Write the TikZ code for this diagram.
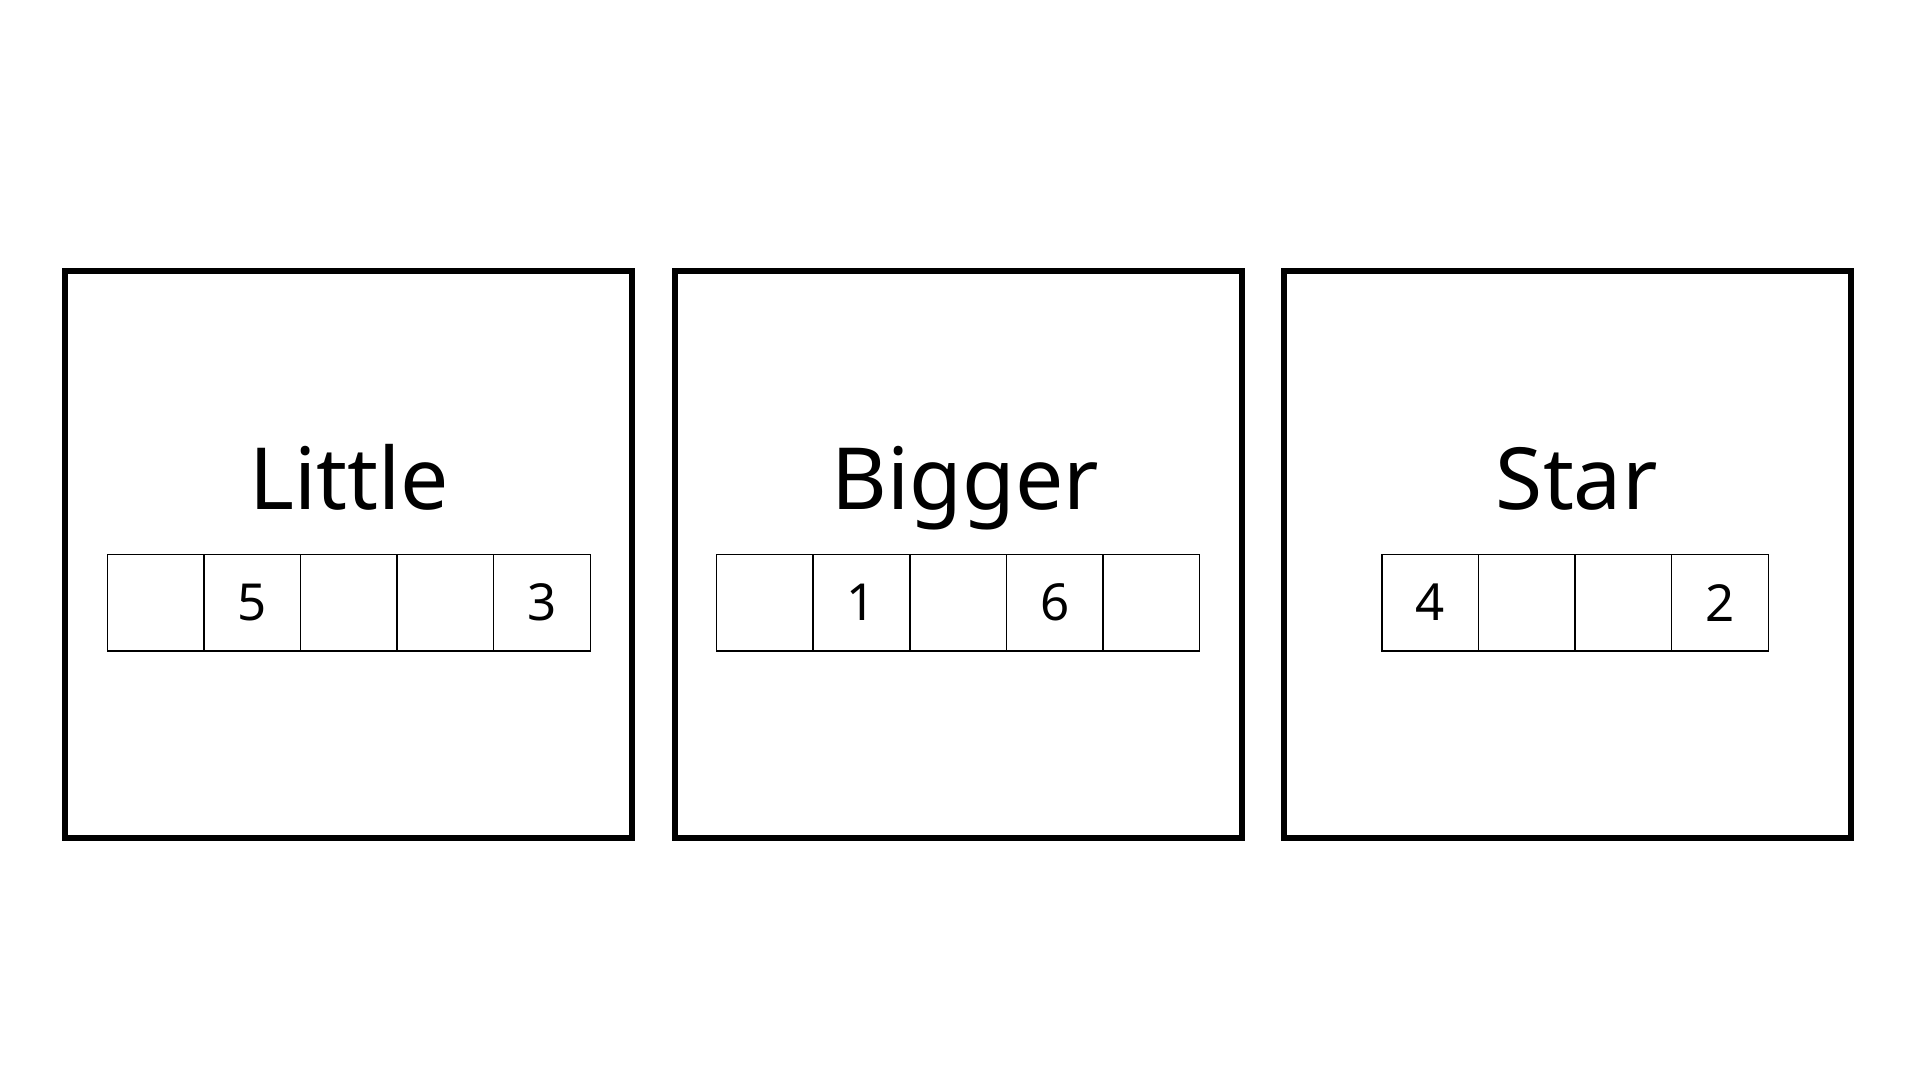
\documentclass[tikz,border=0pt]{standalone}
\usepackage{fontspec}
\setmainfont{Noto Sans}
\begin{document}
\begin{tikzpicture}[x=0.5pt,y=-0.5pt,
  panel/.style={draw=black,line width=3pt,minimum width=283.4pt,minimum height=283.35pt,inner sep=0pt,outer sep=0pt},
  cellbox/.style={draw=black,line width=0.75pt,minimum width=48.3pt,minimum height=48.3pt,inner sep=0pt,outer sep=0pt,font=\fontsize{25.5}{30}\selectfont},
  title/.style={anchor=base,inner sep=0pt,font=\fontsize{42.9}{50}\selectfont}]
\fill[white] (0,0) rectangle (1920,1080);
\useasboundingbox (0,0) rectangle (1920,1080);
% panels
\node[panel] (p1) at (348.15,554.25) {};
\node[panel] (p2) at (958.15,554.25) {};
\node[panel] (p3) at (1567.5,554.25) {};
% titles
\node[title] (t1) at (349.4,509.1) {Little};
\node[title] (t2) at (965.2,509.1) {Bigger};
\node[title] (t3) at (1576.7,509.1) {Star};
% cells of Little
\node[cellbox] (a1) at (155.69,602.6) {};
\node[cellbox] (a2) at (252.27,602.6) {5};
\node[cellbox] (a3) at (348.85,602.6) {};
\node[cellbox] (a4) at (445.43,602.6) {};
\node[cellbox] (a5) at (542.01,602.6) {3};
% cells of Bigger
\node[cellbox] (b1) at (764.89,602.6) {};
\node[cellbox] (b2) at (861.47,602.6) {1};
\node[cellbox] (b3) at (958.05,602.6) {};
\node[cellbox] (b4) at (1054.63,602.6) {6};
\node[cellbox] (b5) at (1151.21,602.6) {};
% cells of Star
\node[cellbox] (c1) at (1430.36,602.6) {4};
\node[cellbox] (c2) at (1526.89,602.6) {};
\node[cellbox] (c3) at (1623.42,602.6) {};
\node[cellbox] (c4) at (1719.95,602.6) {2};
\end{tikzpicture}
\end{document}
